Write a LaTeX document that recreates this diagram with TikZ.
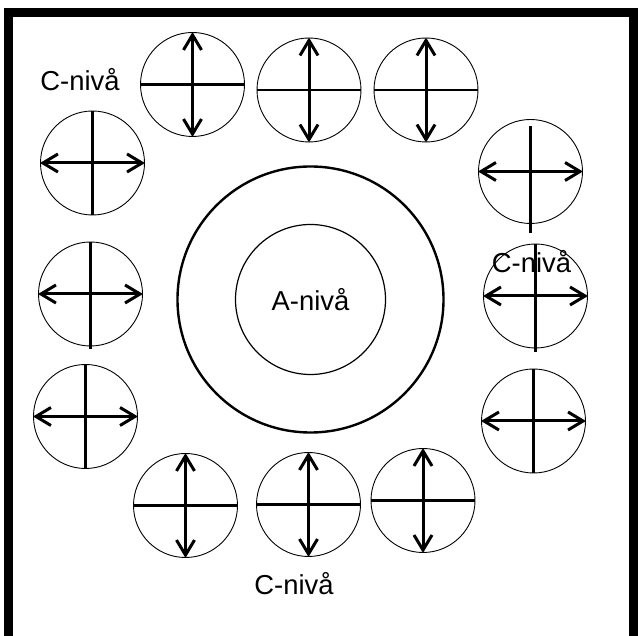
\documentclass[tikz,border=0pt]{standalone}
\usepackage{fontspec}
\setmainfont{Liberation Sans}
\usepackage{tikz}
\usetikzlibrary{arrows.meta}

\begin{document}
\begin{tikzpicture}[x=1bp,y=1bp,
  well/.style={draw, circle, line width=0.9bp, minimum size=104bp, inner sep=0pt},
  dbl/.style={{Straight Barb[length=15bp,width=18bp,line width=3bp]}-{Straight Barb[length=15bp,width=18bp,line width=3bp]}, line width=3bp},
  bar/.style={line width=2.6bp},
  lab/.style={font=\fontsize{27.5}{30}\selectfont, inner sep=0pt, anchor=base}]
\useasboundingbox (0,0) rectangle (638,636);
\draw[line width=8.5bp] (8.5,-5) rectangle (633.5,623.5);
% centre
\node[draw, circle, line width=2.4bp, minimum size=266bp] (AO) at (310.5,336.5) {};
\node[draw, circle, line width=1.2bp, minimum size=150bp, font=\fontsize{27.5}{30}\selectfont] (A) at (310.5,336.5) {A-nivå};
% C-level wells
\node[well] (T1) at (192.5,551.5) {};
\node[well] (T2) at (309,546)     {};
\node[well] (T3) at (426,546)     {};
\node[well] (L1) at (92.5,473)    {};
\node[well] (L2) at (90.5,342)    {};
\node[well] (L3) at (85.5,219.5)  {};
\node[well] (B1) at (185.5,130.5) {};
\node[well] (B2) at (308.5,131.5) {};
\node[well] (B3) at (423,135.5)   {};
\node[well] (R1) at (530.5,464.5) {};
\node[well] (R2) at (535.5,340)   {};
\node[well] (R3) at (533.5,215)   {};
\draw[dbl] (T1.north) -- (T1.south); \draw[bar] (T1.west) -- (T1.east);
\draw[dbl] (T2.north) -- (T2.south); \draw[bar] (T2.west) -- (T2.east);
\draw[dbl] (T3.north) -- (T3.south); \draw[bar] (T3.west) -- (T3.east);
\draw[dbl] (B1.north) -- (B1.south); \draw[bar] (B1.west) -- (B1.east);
\draw[dbl] (B2.north) -- (B2.south); \draw[bar] (B2.west) -- (B2.east);
\draw[dbl] (B3.north) -- (B3.south); \draw[bar] (B3.west) -- (B3.east);
\draw[dbl] (L1.west) -- (L1.east); \draw[bar] (L1.north) -- (L1.south);
\draw[dbl] (L2.west) -- (L2.east); \draw[bar] (L2.north) -- ([yshift=-3bp]L2.south);
\draw[dbl] (L3.west) -- (L3.east); \draw[bar] (L3.north) -- (L3.south);
\draw[dbl] (R1.west) -- (R1.east); \draw[bar] ([yshift=-7bp]R1.north) -- ([yshift=-9bp]R1.south);
\draw[dbl] (R2.west) -- (R2.east); \draw[bar] (R2.north) -- ([yshift=-4bp]R2.south);
\draw[dbl] (R3.west) -- (R3.east); \draw[bar] (R3.north) -- (R3.south);
% labels
\node[lab] (CT) at (80,545)    {C-nivå};
\node[lab] (CR) at (531.5,363) {C-nivå};
\node[lab] (CB) at (294,41)    {C-nivå};
\end{tikzpicture}
\end{document}
